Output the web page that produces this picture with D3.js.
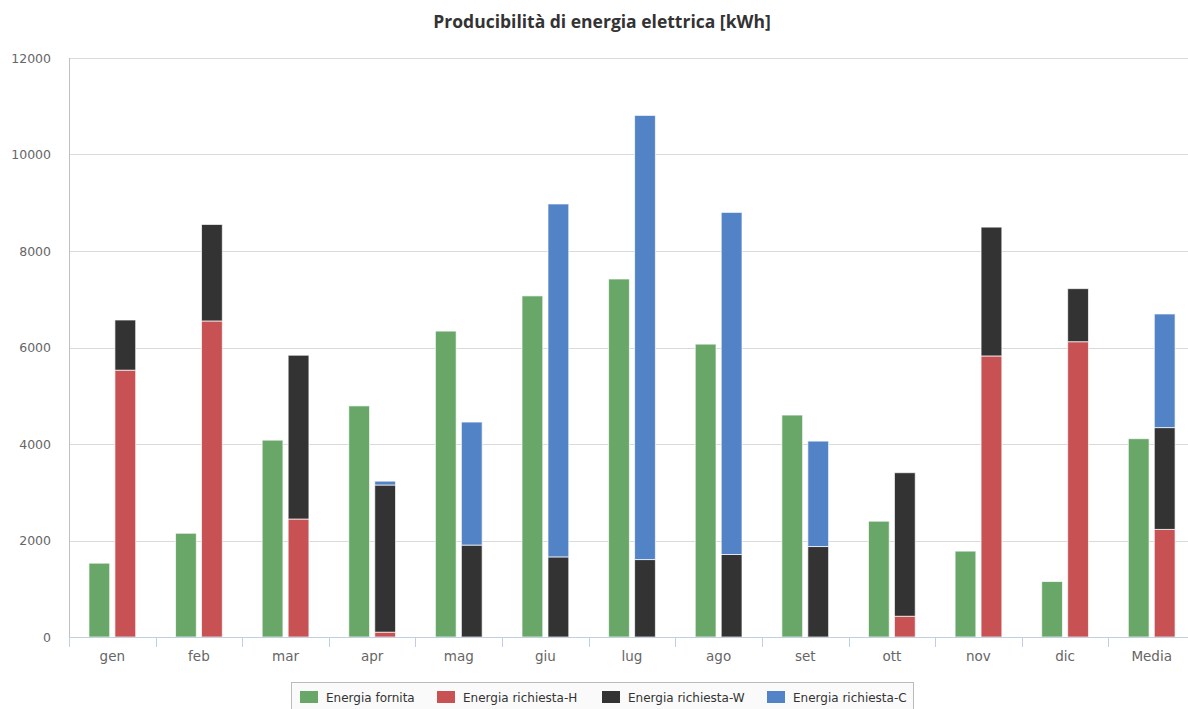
<!DOCTYPE html>
<html>
<head>
<meta charset="utf-8">
<script src="https://cdn.jsdelivr.net/npm/d3@7/dist/d3.min.js"></script>
<style>
  html, body { margin: 0; padding: 0; background: #fff; }
  svg { display: block; }
</style>
</head>
<body>
<svg id="chart" width="1188" height="709"></svg>
<script>
// Monthly energy: supplied vs. required (heating / hot water / cooling), kWh
const categories = ["gen", "feb", "mar", "apr", "mag", "giu", "lug", "ago", "set", "ott", "nov", "dic", "Media"];
const energiaFornita = [1530, 2150, 4080, 4790, 6340, 7070, 7420, 6070, 4600, 2400, 1780, 1150, 4110];
const richiestaH     = [5530, 6550, 2445, 100, 0, 0, 0, 0, 0, 430, 5825, 6120, 2230];
const richiestaW     = [1040, 2000, 3395, 3050, 1905, 1660, 1605, 1710, 1875, 2975, 2670, 1100, 2110];
const richiestaC     = [0, 0, 0, 80, 2550, 7315, 9205, 7090, 2185, 0, 0, 0, 2355];
const yTicks = [0, 2000, 4000, 6000, 8000, 10000, 12000];

const seriesNames  = ["Energia fornita", "Energia richiesta-H", "Energia richiesta-W", "Energia richiesta-C"];
const seriesColors = ["#69a769", "#c75153", "#333333", "#5183c6"];

const svg = d3.select("#chart");
const plot = { left: 69, right: 1195, top: 58, bottom: 637 };

const x = d3.scaleBand().domain(categories).range([plot.left, plot.right]).paddingInner(0).paddingOuter(0);
const y = d3.scaleLinear().domain([0, 12000]).range([plot.bottom, plot.top]);

// Title
svg.append("text")
  .attr("x", 602).attr("y", 28)
  .attr("text-anchor", "middle")
  .attr("font-family", "'Open Sans', sans-serif")
  .attr("font-weight", "bold")
  .attr("font-size", 17.5)
  .attr("fill", "#333")
  .text("Producibilità di energia elettrica [kWh]");

// Horizontal grid lines
svg.append("g").selectAll("line").data(yTicks.slice(1)).join("line")
  .attr("x1", plot.left).attr("x2", plot.right)
  .attr("y1", d => Math.round(y(d)) + 0.5).attr("y2", d => Math.round(y(d)) + 0.5)
  .attr("stroke", "#dadada").attr("stroke-width", 1);

// Y axis labels
svg.append("g").selectAll("text").data(yTicks).join("text")
  .attr("x", 51).attr("y", d => y(d) + 4.5)
  .attr("text-anchor", "end")
  .attr("font-family", "'DejaVu Sans', sans-serif")
  .attr("font-size", 12.5)
  .attr("fill", "#666")
  .text(d => d);

// Y axis line
svg.append("line")
  .attr("x1", plot.left + 0.5).attr("x2", plot.left + 0.5)
  .attr("y1", plot.top).attr("y2", plot.bottom)
  .attr("stroke", "#c0c0c0").attr("stroke-width", 1);

// Columns: two columns per category (supplied, stacked required)
const groupWidth = x.bandwidth() * 0.6;
const colWidth = groupWidth / 2;
const barWidth = colWidth * 0.8;
function colX(cat, idx) {
  return x(cat) + x.bandwidth() * 0.2 + idx * colWidth + colWidth * 0.1;
}

const barsG = svg.append("g");
// supplied energy
barsG.selectAll("rect.fornita").data(categories).join("rect")
  .attr("class", "fornita")
  .attr("x", (d) => colX(d, 0))
  .attr("width", barWidth)
  .attr("y", (d, i) => y(energiaFornita[i]))
  .attr("height", (d, i) => y(0) - y(energiaFornita[i]))
  .attr("fill", seriesColors[0])
  .attr("stroke", "#ffffff").attr("stroke-opacity", 0.7).attr("stroke-width", 1);

// required energy, stacked H / W / C
const stackRows = categories.map((c, i) => ({ cat: c, H: richiestaH[i], W: richiestaW[i], C: richiestaC[i] }));
const stacked = d3.stack().keys(["H", "W", "C"])(stackRows);
stacked.forEach((layer, li) => {
  barsG.selectAll("rect.s" + li).data(layer.filter(d => d[1] - d[0] > 0)).join("rect")
    .attr("class", "s" + li)
    .attr("x", d => colX(d.data.cat, 1))
    .attr("width", barWidth)
    .attr("y", d => y(d[1]))
    .attr("height", d => y(d[0]) - y(d[1]))
    .attr("fill", seriesColors[li + 1])
    .attr("stroke", "#ffffff").attr("stroke-opacity", 0.7).attr("stroke-width", 1);
});

// X axis line, ticks and labels
svg.append("line")
  .attr("x1", plot.left).attr("x2", plot.right)
  .attr("y1", plot.bottom + 0.5).attr("y2", plot.bottom + 0.5)
  .attr("stroke", "#c0d0e0").attr("stroke-width", 1);
const tickPos = categories.map(c => x(c)).concat([plot.right]);
svg.append("g").selectAll("line").data(tickPos).join("line")
  .attr("x1", d => Math.round(d) + 0.5).attr("x2", d => Math.round(d) + 0.5)
  .attr("y1", plot.bottom).attr("y2", plot.bottom + 10)
  .attr("stroke", "#c0d0e0").attr("stroke-width", 1);
svg.append("g").selectAll("text").data(categories).join("text")
  .attr("x", d => x(d) + x.bandwidth() / 2)
  .attr("y", 661)
  .attr("text-anchor", "middle")
  .attr("font-family", "'DejaVu Sans', sans-serif")
  .attr("font-size", 13.5)
  .attr("fill", "#666")
  .text(d => d);

// Legend
const legend = svg.append("g");
legend.append("rect")
  .attr("x", 291.5).attr("y", 682.5).attr("width", 622).attr("height", 34)
  .attr("fill", "#fafafa").attr("stroke", "#bbbbbb").attr("stroke-width", 1);
const legendX = [300, 437, 602, 767];
seriesNames.forEach((name, i) => {
  legend.append("rect")
    .attr("x", legendX[i]).attr("y", 691).attr("width", 18).attr("height", 12)
    .attr("fill", seriesColors[i]);
  legend.append("text")
    .attr("x", legendX[i] + 26).attr("y", 701.5)
    .attr("font-family", "'DejaVu Sans', sans-serif")
    .attr("font-size", 12)
    .attr("fill", "#333")
    .text(name);
});
</script>
</body>
</html>
